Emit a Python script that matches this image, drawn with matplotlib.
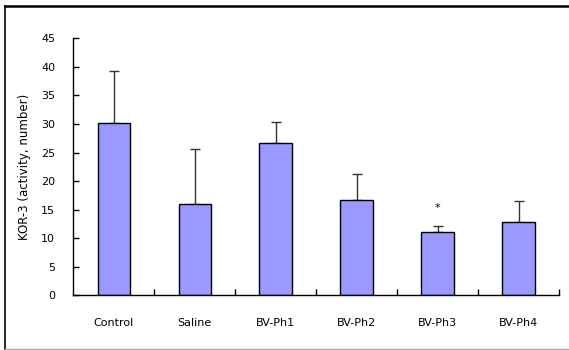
import matplotlib
matplotlib.use("Agg")
import matplotlib.pyplot as plt
from matplotlib.lines import Line2D

categories = ["Control", "Saline", "BV-Ph1", "BV-Ph2", "BV-Ph3", "BV-Ph4"]
means = [30.2, 16.0, 26.6, 16.7, 11.1, 12.8]
errors = [9.0, 9.7, 3.7, 4.5, 1.0, 3.7]
marks = ["", "", "", "", "*", ""]

plt.rcParams['font.family'] = ['DejaVu Sans']

W, H = 569, 350
fig = plt.figure(figsize=(W / 100, H / 100), dpi=100)
ax = fig.add_axes([73.3 / W, 1 - 295.3 / H, (559 - 73.3) / W, (295.3 - 38.3) / H])

x = list(range(len(categories)))
ax.bar(x, means, width=0.4, color="#9999FF", edgecolor="black", linewidth=1.0, zorder=2)
ax.errorbar(x, means, yerr=[[0] * len(errors), errors], fmt="none", ecolor="#333333",
            elinewidth=1.0, capsize=3.5, capthick=1.0, zorder=1)
for xi, m, e, s in zip(x, means, errors, marks):
    if s:
        ax.text(xi, m + e + 3.2, s, ha="center", va="center", fontsize=8)

ax.set_xlim(-0.5, len(categories) - 0.5)
ax.set_ylim(0, 45)
ax.set_yticks(range(0, 46, 5))
ax.set_xticks(x)
ax.set_xticklabels(categories, fontsize=8)
ax.set_xticks([i + 0.5 for i in x], minor=True)
ax.tick_params(axis="x", which="major", length=0, pad=16)
ax.tick_params(axis="x", which="minor", direction="in", length=4, width=1)
ax.tick_params(axis="y", which="both", direction="in", length=4, width=1, labelsize=8, pad=13)
ax.spines["top"].set_visible(False)
ax.spines["right"].set_visible(False)
ax.spines["left"].set_linewidth(1)
ax.spines["bottom"].set_linewidth(1)
ax.set_ylabel("KOR-3 (activity, number)", fontsize=8.5, labelpad=7)

# outer frame
fig.add_artist(Line2D([4.5 / W, 4.5 / W], [1 - 6 / H, 1 - 349 / H], transform=fig.transFigure, color="black", lw=1.2))
fig.add_artist(Line2D([4.5 / W, 1], [1 - 6 / H, 1 - 6 / H], transform=fig.transFigure, color="black", lw=1.8))
fig.add_artist(Line2D([4.5 / W, 1], [1 - 349 / H, 1 - 349 / H], transform=fig.transFigure, color="#aaaaaa", lw=1.0))

fig.savefig("out.png", dpi=100)
